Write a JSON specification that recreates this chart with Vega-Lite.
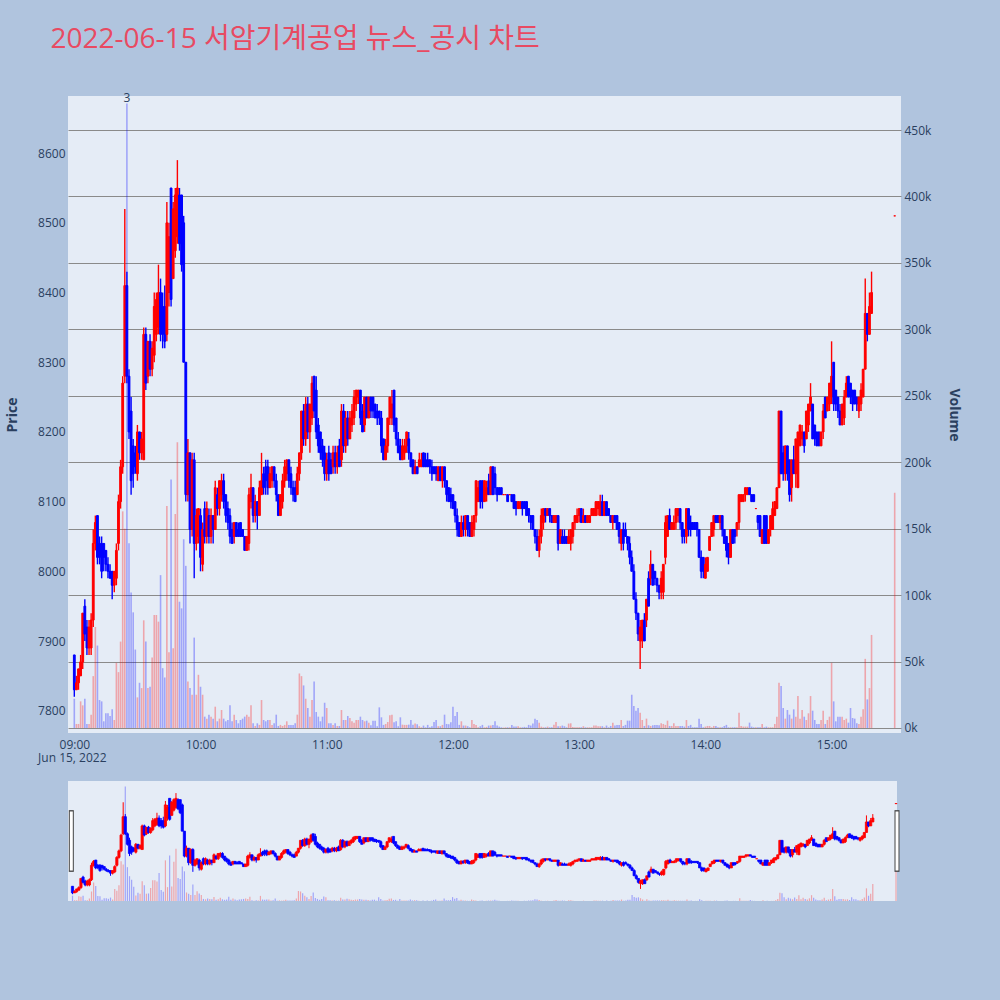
{
  "$schema": "https://vega.github.io/schema/vega-lite/v6.json",
  "background": "#B0C4DE",
  "padding": {"left": 5, "top": 26, "right": 44, "bottom": 106},
  "title": {
    "text": "2022-06-15 서암기계공업 뉴스_공시 차트",
    "anchor": "start",
    "frame": "bounds",
    "dx": 45,
    "offset": 38,
    "fontSize": 28,
    "fontWeight": "normal",
    "color": "#E84A62",
    "font": "Open Sans, Noto Sans CJK KR, sans-serif"
  },
  "datasets": {
    "candles": [
      {"t":"2022-06-15T09:00","o":7880,"h":7880,"l":7820,"c":7830,"v":22000},
      {"t":"2022-06-15T09:01","o":7830,"h":7850,"l":7830,"c":7840,"v":3000},
      {"t":"2022-06-15T09:02","o":7840,"h":7860,"l":7830,"c":7860,"v":3000},
      {"t":"2022-06-15T09:03","o":7850,"h":7880,"l":7850,"c":7870,"v":20000},
      {"t":"2022-06-15T09:04","o":7870,"h":7940,"l":7860,"c":7940,"v":17000},
      {"t":"2022-06-15T09:05","o":7950,"h":7960,"l":7900,"c":7910,"v":22000},
      {"t":"2022-06-15T09:06","o":7920,"h":7930,"l":7880,"c":7890,"v":3000},
      {"t":"2022-06-15T09:07","o":7890,"h":7930,"l":7880,"c":7920,"v":3000},
      {"t":"2022-06-15T09:08","o":7890,"h":7940,"l":7880,"c":7930,"v":10000},
      {"t":"2022-06-15T09:09","o":7930,"h":8060,"l":7920,"c":8040,"v":39000},
      {"t":"2022-06-15T09:10","o":8040,"h":8080,"l":8030,"c":8070,"v":76000},
      {"t":"2022-06-15T09:11","o":8080,"h":8080,"l":8010,"c":8020,"v":62000},
      {"t":"2022-06-15T09:12","o":8040,"h":8050,"l":8010,"c":8020,"v":21000},
      {"t":"2022-06-15T09:13","o":8040,"h":8050,"l":7990,"c":8000,"v":20000},
      {"t":"2022-06-15T09:14","o":8040,"h":8040,"l":8000,"c":8020,"v":5000},
      {"t":"2022-06-15T09:15","o":8030,"h":8030,"l":8000,"c":8010,"v":11000},
      {"t":"2022-06-15T09:16","o":8010,"h":8020,"l":7990,"c":8000,"v":11000},
      {"t":"2022-06-15T09:17","o":8000,"h":8010,"l":7990,"c":7990,"v":9000},
      {"t":"2022-06-15T09:18","o":8000,"h":8000,"l":7960,"c":7980,"v":14000},
      {"t":"2022-06-15T09:19","o":7980,"h":8000,"l":7970,"c":8000,"v":6000},
      {"t":"2022-06-15T09:20","o":7990,"h":8040,"l":7980,"c":8030,"v":49000},
      {"t":"2022-06-15T09:21","o":8040,"h":8110,"l":8030,"c":8100,"v":42000},
      {"t":"2022-06-15T09:22","o":8100,"h":8160,"l":8090,"c":8150,"v":65000},
      {"t":"2022-06-15T09:23","o":8150,"h":8280,"l":8140,"c":8270,"v":163000},
      {"t":"2022-06-15T09:24","o":8280,"h":8520,"l":8270,"c":8410,"v":150000},
      {"t":"2022-06-15T09:25","o":8410,"h":8430,"l":8270,"c":8280,"v":470000},
      {"t":"2022-06-15T09:26","o":8280,"h":8290,"l":8190,"c":8200,"v":139000},
      {"t":"2022-06-15T09:27","o":8230,"h":8250,"l":8110,"c":8130,"v":102000},
      {"t":"2022-06-15T09:28","o":8180,"h":8190,"l":8120,"c":8140,"v":87000},
      {"t":"2022-06-15T09:29","o":8170,"h":8180,"l":8140,"c":8150,"v":59000},
      {"t":"2022-06-15T09:30","o":8140,"h":8210,"l":8130,"c":8200,"v":23000},
      {"t":"2022-06-15T09:31","o":8200,"h":8200,"l":8160,"c":8170,"v":34000},
      {"t":"2022-06-15T09:32","o":8170,"h":8200,"l":8160,"c":8190,"v":30000},
      {"t":"2022-06-15T09:33","o":8160,"h":8350,"l":8160,"c":8340,"v":81000},
      {"t":"2022-06-15T09:34","o":8340,"h":8350,"l":8260,"c":8270,"v":65000},
      {"t":"2022-06-15T09:35","o":8280,"h":8330,"l":8270,"c":8330,"v":30000},
      {"t":"2022-06-15T09:36","o":8330,"h":8340,"l":8280,"c":8290,"v":31000},
      {"t":"2022-06-15T09:37","o":8290,"h":8330,"l":8280,"c":8320,"v":53000},
      {"t":"2022-06-15T09:38","o":8310,"h":8400,"l":8300,"c":8380,"v":85000},
      {"t":"2022-06-15T09:39","o":8340,"h":8400,"l":8330,"c":8390,"v":85000},
      {"t":"2022-06-15T09:40","o":8350,"h":8440,"l":8340,"c":8400,"v":80000},
      {"t":"2022-06-15T09:41","o":8400,"h":8420,"l":8330,"c":8340,"v":115000},
      {"t":"2022-06-15T09:42","o":8380,"h":8400,"l":8320,"c":8340,"v":45000},
      {"t":"2022-06-15T09:43","o":8380,"h":8410,"l":8320,"c":8330,"v":38000},
      {"t":"2022-06-15T09:44","o":8340,"h":8530,"l":8330,"c":8500,"v":167000},
      {"t":"2022-06-15T09:45","o":8400,"h":8500,"l":8380,"c":8480,"v":57000},
      {"t":"2022-06-15T09:46","o":8550,"h":8550,"l":8380,"c":8390,"v":187000},
      {"t":"2022-06-15T09:47","o":8420,"h":8530,"l":8420,"c":8520,"v":60000},
      {"t":"2022-06-15T09:48","o":8460,"h":8550,"l":8450,"c":8540,"v":161000},
      {"t":"2022-06-15T09:49","o":8480,"h":8590,"l":8470,"c":8550,"v":215000},
      {"t":"2022-06-15T09:50","o":8540,"h":8550,"l":8460,"c":8470,"v":95000},
      {"t":"2022-06-15T09:51","o":8540,"h":8540,"l":8430,"c":8440,"v":90000},
      {"t":"2022-06-15T09:52","o":8500,"h":8510,"l":8300,"c":8300,"v":142000},
      {"t":"2022-06-15T09:53","o":8300,"h":8300,"l":8100,"c":8110,"v":122000},
      {"t":"2022-06-15T09:54","o":8110,"h":8190,"l":8100,"c":8170,"v":35000},
      {"t":"2022-06-15T09:55","o":8170,"h":8170,"l":8040,"c":8060,"v":30000},
      {"t":"2022-06-15T09:56","o":8060,"h":8170,"l":8050,"c":8160,"v":25000},
      {"t":"2022-06-15T09:57","o":8160,"h":8170,"l":7990,"c":8040,"v":68000},
      {"t":"2022-06-15T09:58","o":8040,"h":8090,"l":8030,"c":8080,"v":25000},
      {"t":"2022-06-15T09:59","o":8050,"h":8090,"l":8040,"c":8090,"v":40000},
      {"t":"2022-06-15T10:00","o":8080,"h":8090,"l":8000,"c":8020,"v":31000},
      {"t":"2022-06-15T10:01","o":8010,"h":8070,"l":8000,"c":8060,"v":25000},
      {"t":"2022-06-15T10:02","o":8090,"h":8100,"l":8040,"c":8050,"v":8500},
      {"t":"2022-06-15T10:03","o":8050,"h":8100,"l":8040,"c":8090,"v":7000},
      {"t":"2022-06-15T10:04","o":8080,"h":8090,"l":8040,"c":8050,"v":10000},
      {"t":"2022-06-15T10:05","o":8050,"h":8090,"l":8040,"c":8080,"v":8500},
      {"t":"2022-06-15T10:06","o":8080,"h":8080,"l":8040,"c":8060,"v":7000},
      {"t":"2022-06-15T10:07","o":8060,"h":8130,"l":8060,"c":8120,"v":16000},
      {"t":"2022-06-15T10:08","o":8110,"h":8120,"l":8080,"c":8090,"v":5000},
      {"t":"2022-06-15T10:09","o":8090,"h":8130,"l":8080,"c":8130,"v":7000},
      {"t":"2022-06-15T10:10","o":8110,"h":8140,"l":8100,"c":8130,"v":13500},
      {"t":"2022-06-15T10:11","o":8130,"h":8140,"l":8090,"c":8100,"v":7000},
      {"t":"2022-06-15T10:12","o":8110,"h":8110,"l":8070,"c":8080,"v":5000},
      {"t":"2022-06-15T10:13","o":8090,"h":8100,"l":8060,"c":8070,"v":6000},
      {"t":"2022-06-15T10:14","o":8080,"h":8090,"l":8040,"c":8050,"v":17000},
      {"t":"2022-06-15T10:15","o":8060,"h":8070,"l":8040,"c":8040,"v":5000},
      {"t":"2022-06-15T10:16","o":8050,"h":8070,"l":8040,"c":8070,"v":10000},
      {"t":"2022-06-15T10:17","o":8070,"h":8070,"l":8050,"c":8050,"v":6000},
      {"t":"2022-06-15T10:18","o":8060,"h":8070,"l":8050,"c":8050,"v":3500},
      {"t":"2022-06-15T10:19","o":8070,"h":8070,"l":8050,"c":8050,"v":6000},
      {"t":"2022-06-15T10:20","o":8060,"h":8060,"l":8050,"c":8050,"v":7000},
      {"t":"2022-06-15T10:21","o":8050,"h":8050,"l":8030,"c":8030,"v":8500},
      {"t":"2022-06-15T10:22","o":8030,"h":8050,"l":8030,"c":8050,"v":10000},
      {"t":"2022-06-15T10:23","o":8040,"h":8120,"l":8030,"c":8110,"v":8500},
      {"t":"2022-06-15T10:24","o":8100,"h":8140,"l":8090,"c":8120,"v":17000},
      {"t":"2022-06-15T10:25","o":8120,"h":8120,"l":8070,"c":8080,"v":3500},
      {"t":"2022-06-15T10:26","o":8080,"h":8110,"l":8070,"c":8100,"v":1500},
      {"t":"2022-06-15T10:27","o":8100,"h":8100,"l":8060,"c":8080,"v":3500},
      {"t":"2022-06-15T10:28","o":8080,"h":8130,"l":8080,"c":8120,"v":2300},
      {"t":"2022-06-15T10:29","o":8110,"h":8170,"l":8110,"c":8130,"v":21000},
      {"t":"2022-06-15T10:30","o":8140,"h":8150,"l":8110,"c":8120,"v":6000},
      {"t":"2022-06-15T10:31","o":8150,"h":8160,"l":8110,"c":8130,"v":5000},
      {"t":"2022-06-15T10:32","o":8150,"h":8160,"l":8110,"c":8120,"v":6000},
      {"t":"2022-06-15T10:33","o":8120,"h":8150,"l":8120,"c":8140,"v":6000},
      {"t":"2022-06-15T10:34","o":8130,"h":8150,"l":8120,"c":8150,"v":2300},
      {"t":"2022-06-15T10:35","o":8150,"h":8150,"l":8120,"c":8130,"v":3500},
      {"t":"2022-06-15T10:36","o":8130,"h":8140,"l":8100,"c":8110,"v":10000},
      {"t":"2022-06-15T10:37","o":8110,"h":8110,"l":8080,"c":8080,"v":1500},
      {"t":"2022-06-15T10:38","o":8080,"h":8110,"l":8080,"c":8110,"v":2300},
      {"t":"2022-06-15T10:39","o":8100,"h":8140,"l":8090,"c":8130,"v":1500},
      {"t":"2022-06-15T10:40","o":8130,"h":8160,"l":8120,"c":8150,"v":2300},
      {"t":"2022-06-15T10:41","o":8140,"h":8160,"l":8130,"c":8160,"v":5000},
      {"t":"2022-06-15T10:42","o":8160,"h":8160,"l":8120,"c":8130,"v":2300},
      {"t":"2022-06-15T10:43","o":8140,"h":8150,"l":8110,"c":8120,"v":2300},
      {"t":"2022-06-15T10:44","o":8120,"h":8130,"l":8100,"c":8110,"v":2300},
      {"t":"2022-06-15T10:45","o":8120,"h":8130,"l":8100,"c":8100,"v":3500},
      {"t":"2022-06-15T10:46","o":8110,"h":8150,"l":8110,"c":8140,"v":10000},
      {"t":"2022-06-15T10:47","o":8140,"h":8170,"l":8130,"c":8170,"v":41000},
      {"t":"2022-06-15T10:48","o":8170,"h":8230,"l":8160,"c":8230,"v":39000},
      {"t":"2022-06-15T10:49","o":8230,"h":8240,"l":8180,"c":8190,"v":32000},
      {"t":"2022-06-15T10:50","o":8190,"h":8250,"l":8180,"c":8240,"v":22000},
      {"t":"2022-06-15T10:51","o":8240,"h":8250,"l":8190,"c":8200,"v":15000},
      {"t":"2022-06-15T10:52","o":8200,"h":8240,"l":8170,"c":8240,"v":8500},
      {"t":"2022-06-15T10:53","o":8220,"h":8280,"l":8210,"c":8270,"v":21000},
      {"t":"2022-06-15T10:54","o":8280,"h":8280,"l":8220,"c":8230,"v":35000},
      {"t":"2022-06-15T10:55","o":8260,"h":8280,"l":8190,"c":8200,"v":12000},
      {"t":"2022-06-15T10:56","o":8210,"h":8220,"l":8170,"c":8180,"v":8500},
      {"t":"2022-06-15T10:57","o":8200,"h":8200,"l":8160,"c":8170,"v":5000},
      {"t":"2022-06-15T10:58","o":8180,"h":8190,"l":8150,"c":8160,"v":8500},
      {"t":"2022-06-15T10:59","o":8170,"h":8180,"l":8130,"c":8140,"v":19000},
      {"t":"2022-06-15T11:00","o":8140,"h":8170,"l":8130,"c":8160,"v":15000},
      {"t":"2022-06-15T11:01","o":8170,"h":8180,"l":8130,"c":8140,"v":3500},
      {"t":"2022-06-15T11:02","o":8160,"h":8170,"l":8140,"c":8140,"v":3500},
      {"t":"2022-06-15T11:03","o":8150,"h":8180,"l":8140,"c":8170,"v":2300},
      {"t":"2022-06-15T11:04","o":8170,"h":8180,"l":8140,"c":8150,"v":3500},
      {"t":"2022-06-15T11:05","o":8150,"h":8180,"l":8140,"c":8170,"v":1500},
      {"t":"2022-06-15T11:06","o":8180,"h":8190,"l":8150,"c":8150,"v":1500},
      {"t":"2022-06-15T11:07","o":8160,"h":8240,"l":8150,"c":8230,"v":13500},
      {"t":"2022-06-15T11:08","o":8230,"h":8240,"l":8170,"c":8180,"v":6000},
      {"t":"2022-06-15T11:09","o":8180,"h":8230,"l":8170,"c":8220,"v":6000},
      {"t":"2022-06-15T11:10","o":8220,"h":8230,"l":8180,"c":8190,"v":9000},
      {"t":"2022-06-15T11:11","o":8190,"h":8230,"l":8190,"c":8220,"v":7500},
      {"t":"2022-06-15T11:12","o":8210,"h":8240,"l":8200,"c":8230,"v":5000},
      {"t":"2022-06-15T11:13","o":8220,"h":8260,"l":8210,"c":8250,"v":4000},
      {"t":"2022-06-15T11:14","o":8240,"h":8260,"l":8230,"c":8260,"v":6000},
      {"t":"2022-06-15T11:15","o":8250,"h":8260,"l":8240,"c":8260,"v":6000},
      {"t":"2022-06-15T11:16","o":8260,"h":8260,"l":8210,"c":8220,"v":8500},
      {"t":"2022-06-15T11:17","o":8230,"h":8240,"l":8200,"c":8200,"v":6000},
      {"t":"2022-06-15T11:18","o":8210,"h":8250,"l":8200,"c":8250,"v":5000},
      {"t":"2022-06-15T11:19","o":8250,"h":8250,"l":8220,"c":8220,"v":5500},
      {"t":"2022-06-15T11:20","o":8220,"h":8250,"l":8220,"c":8250,"v":4000},
      {"t":"2022-06-15T11:21","o":8250,"h":8250,"l":8220,"c":8230,"v":2000},
      {"t":"2022-06-15T11:22","o":8250,"h":8250,"l":8220,"c":8230,"v":5500},
      {"t":"2022-06-15T11:23","o":8240,"h":8240,"l":8220,"c":8220,"v":5500},
      {"t":"2022-06-15T11:24","o":8230,"h":8240,"l":8210,"c":8220,"v":1300},
      {"t":"2022-06-15T11:25","o":8230,"h":8230,"l":8210,"c":8220,"v":15500},
      {"t":"2022-06-15T11:26","o":8220,"h":8230,"l":8170,"c":8180,"v":8000},
      {"t":"2022-06-15T11:27","o":8190,"h":8190,"l":8160,"c":8160,"v":2300},
      {"t":"2022-06-15T11:28","o":8160,"h":8190,"l":8160,"c":8180,"v":3000},
      {"t":"2022-06-15T11:29","o":8180,"h":8220,"l":8170,"c":8220,"v":4500},
      {"t":"2022-06-15T11:30","o":8220,"h":8250,"l":8210,"c":8250,"v":9500},
      {"t":"2022-06-15T11:31","o":8220,"h":8260,"l":8210,"c":8240,"v":10000},
      {"t":"2022-06-15T11:32","o":8260,"h":8260,"l":8200,"c":8210,"v":4300},
      {"t":"2022-06-15T11:33","o":8220,"h":8220,"l":8180,"c":8190,"v":5000},
      {"t":"2022-06-15T11:34","o":8190,"h":8200,"l":8170,"c":8170,"v":1300},
      {"t":"2022-06-15T11:35","o":8180,"h":8190,"l":8160,"c":8160,"v":8000},
      {"t":"2022-06-15T11:36","o":8160,"h":8190,"l":8160,"c":8180,"v":2500},
      {"t":"2022-06-15T11:37","o":8170,"h":8190,"l":8160,"c":8180,"v":2300},
      {"t":"2022-06-15T11:38","o":8180,"h":8200,"l":8170,"c":8200,"v":2300},
      {"t":"2022-06-15T11:39","o":8190,"h":8200,"l":8160,"c":8170,"v":2500},
      {"t":"2022-06-15T11:40","o":8170,"h":8170,"l":8150,"c":8150,"v":6000},
      {"t":"2022-06-15T11:41","o":8160,"h":8160,"l":8140,"c":8140,"v":2500},
      {"t":"2022-06-15T11:42","o":8140,"h":8160,"l":8140,"c":8150,"v":3300},
      {"t":"2022-06-15T11:43","o":8150,"h":8150,"l":8140,"c":8140,"v":2800},
      {"t":"2022-06-15T11:44","o":8150,"h":8170,"l":8150,"c":8160,"v":1300},
      {"t":"2022-06-15T11:45","o":8150,"h":8170,"l":8150,"c":8160,"v":500},
      {"t":"2022-06-15T11:46","o":8170,"h":8170,"l":8150,"c":8150,"v":1800},
      {"t":"2022-06-15T11:47","o":8160,"h":8170,"l":8150,"c":8150,"v":500},
      {"t":"2022-06-15T11:48","o":8160,"h":8170,"l":8150,"c":8150,"v":2300},
      {"t":"2022-06-15T11:49","o":8160,"h":8160,"l":8140,"c":8150,"v":500},
      {"t":"2022-06-15T11:50","o":8150,"h":8160,"l":8130,"c":8140,"v":1300},
      {"t":"2022-06-15T11:51","o":8150,"h":8150,"l":8140,"c":8140,"v":4500},
      {"t":"2022-06-15T11:52","o":8150,"h":8150,"l":8130,"c":8140,"v":6000},
      {"t":"2022-06-15T11:53","o":8130,"h":8150,"l":8130,"c":8150,"v":1300},
      {"t":"2022-06-15T11:54","o":8150,"h":8150,"l":8130,"c":8130,"v":1300},
      {"t":"2022-06-15T11:55","o":8130,"h":8150,"l":8120,"c":8150,"v":2300},
      {"t":"2022-06-15T11:56","o":8150,"h":8150,"l":8120,"c":8130,"v":10000},
      {"t":"2022-06-15T11:57","o":8130,"h":8130,"l":8100,"c":8110,"v":3000},
      {"t":"2022-06-15T11:58","o":8120,"h":8120,"l":8100,"c":8100,"v":2800},
      {"t":"2022-06-15T11:59","o":8110,"h":8120,"l":8090,"c":8100,"v":4300},
      {"t":"2022-06-15T12:00","o":8110,"h":8110,"l":8090,"c":8090,"v":16000},
      {"t":"2022-06-15T12:01","o":8100,"h":8100,"l":8070,"c":8080,"v":9000},
      {"t":"2022-06-15T12:02","o":8080,"h":8090,"l":8050,"c":8060,"v":12000},
      {"t":"2022-06-15T12:03","o":8070,"h":8070,"l":8050,"c":8050,"v":2300},
      {"t":"2022-06-15T12:04","o":8050,"h":8080,"l":8050,"c":8070,"v":5000},
      {"t":"2022-06-15T12:05","o":8070,"h":8080,"l":8050,"c":8060,"v":1800},
      {"t":"2022-06-15T12:06","o":8060,"h":8080,"l":8050,"c":8080,"v":1800},
      {"t":"2022-06-15T12:07","o":8080,"h":8080,"l":8050,"c":8060,"v":1300},
      {"t":"2022-06-15T12:08","o":8070,"h":8070,"l":8050,"c":8050,"v":500},
      {"t":"2022-06-15T12:09","o":8050,"h":8080,"l":8050,"c":8070,"v":6000},
      {"t":"2022-06-15T12:10","o":8060,"h":8080,"l":8050,"c":8080,"v":3000},
      {"t":"2022-06-15T12:11","o":8080,"h":8130,"l":8070,"c":8130,"v":2300},
      {"t":"2022-06-15T12:12","o":8100,"h":8130,"l":8100,"c":8120,"v":500},
      {"t":"2022-06-15T12:13","o":8130,"h":8130,"l":8090,"c":8100,"v":1300},
      {"t":"2022-06-15T12:14","o":8130,"h":8130,"l":8090,"c":8100,"v":2300},
      {"t":"2022-06-15T12:15","o":8100,"h":8130,"l":8100,"c":8130,"v":500},
      {"t":"2022-06-15T12:16","o":8110,"h":8130,"l":8100,"c":8120,"v":800},
      {"t":"2022-06-15T12:17","o":8130,"h":8140,"l":8110,"c":8110,"v":1800},
      {"t":"2022-06-15T12:18","o":8110,"h":8150,"l":8110,"c":8150,"v":1800},
      {"t":"2022-06-15T12:19","o":8150,"h":8150,"l":8110,"c":8110,"v":2300},
      {"t":"2022-06-15T12:20","o":8140,"h":8150,"l":8110,"c":8120,"v":5000},
      {"t":"2022-06-15T12:21","o":8120,"h":8120,"l":8100,"c":8110,"v":1800},
      {"t":"2022-06-15T12:22","o":8120,"h":8120,"l":8110,"c":8110,"v":1000},
      {"t":"2022-06-15T12:23","o":8120,"h":8120,"l":8110,"c":8110,"v":500},
      {"t":"2022-06-15T12:24","o":8110,"h":8110,"l":8110,"c":8110,"v":300},
      {"t":"2022-06-15T12:25","o":8110,"h":8110,"l":8110,"c":8110,"v":500},
      {"t":"2022-06-15T12:26","o":8110,"h":8110,"l":8100,"c":8100,"v":500},
      {"t":"2022-06-15T12:27","o":8110,"h":8110,"l":8110,"c":8110,"v":500},
      {"t":"2022-06-15T12:28","o":8110,"h":8110,"l":8100,"c":8100,"v":2300},
      {"t":"2022-06-15T12:29","o":8110,"h":8110,"l":8090,"c":8090,"v":1000},
      {"t":"2022-06-15T12:30","o":8100,"h":8100,"l":8080,"c":8090,"v":1000},
      {"t":"2022-06-15T12:31","o":8090,"h":8100,"l":8090,"c":8100,"v":1300},
      {"t":"2022-06-15T12:32","o":8090,"h":8100,"l":8090,"c":8100,"v":500},
      {"t":"2022-06-15T12:33","o":8100,"h":8100,"l":8080,"c":8090,"v":500},
      {"t":"2022-06-15T12:34","o":8100,"h":8100,"l":8090,"c":8090,"v":800},
      {"t":"2022-06-15T12:35","o":8100,"h":8100,"l":8080,"c":8080,"v":500},
      {"t":"2022-06-15T12:36","o":8090,"h":8090,"l":8070,"c":8080,"v":2300},
      {"t":"2022-06-15T12:37","o":8080,"h":8080,"l":8060,"c":8070,"v":1800},
      {"t":"2022-06-15T12:38","o":8080,"h":8080,"l":8060,"c":8060,"v":3300},
      {"t":"2022-06-15T12:39","o":8060,"h":8060,"l":8040,"c":8050,"v":7000},
      {"t":"2022-06-15T12:40","o":8050,"h":8060,"l":8030,"c":8030,"v":6000},
      {"t":"2022-06-15T12:41","o":8030,"h":8060,"l":8020,"c":8050,"v":4000},
      {"t":"2022-06-15T12:42","o":8050,"h":8090,"l":8040,"c":8080,"v":1000},
      {"t":"2022-06-15T12:43","o":8070,"h":8090,"l":8060,"c":8090,"v":500},
      {"t":"2022-06-15T12:44","o":8090,"h":8090,"l":8070,"c":8080,"v":500},
      {"t":"2022-06-15T12:45","o":8080,"h":8090,"l":8080,"c":8090,"v":1000},
      {"t":"2022-06-15T12:46","o":8090,"h":8090,"l":8070,"c":8080,"v":500},
      {"t":"2022-06-15T12:47","o":8080,"h":8080,"l":8070,"c":8070,"v":500},
      {"t":"2022-06-15T12:48","o":8070,"h":8080,"l":8070,"c":8080,"v":2500},
      {"t":"2022-06-15T12:49","o":8070,"h":8080,"l":8070,"c":8080,"v":4500},
      {"t":"2022-06-15T12:50","o":8080,"h":8080,"l":8030,"c":8040,"v":1300},
      {"t":"2022-06-15T12:51","o":8040,"h":8060,"l":8040,"c":8060,"v":1300},
      {"t":"2022-06-15T12:52","o":8050,"h":8060,"l":8040,"c":8040,"v":1800},
      {"t":"2022-06-15T12:53","o":8050,"h":8060,"l":8040,"c":8040,"v":1300},
      {"t":"2022-06-15T12:54","o":8050,"h":8050,"l":8040,"c":8040,"v":500},
      {"t":"2022-06-15T12:55","o":8040,"h":8060,"l":8040,"c":8050,"v":3300},
      {"t":"2022-06-15T12:56","o":8040,"h":8060,"l":8030,"c":8060,"v":3500},
      {"t":"2022-06-15T12:57","o":8050,"h":8070,"l":8040,"c":8070,"v":800},
      {"t":"2022-06-15T12:58","o":8070,"h":8080,"l":8060,"c":8080,"v":500},
      {"t":"2022-06-15T12:59","o":8070,"h":8090,"l":8070,"c":8080,"v":500},
      {"t":"2022-06-15T13:00","o":8080,"h":8090,"l":8070,"c":8090,"v":500},
      {"t":"2022-06-15T13:01","o":8090,"h":8090,"l":8070,"c":8070,"v":500},
      {"t":"2022-06-15T13:02","o":8070,"h":8090,"l":8070,"c":8080,"v":1300},
      {"t":"2022-06-15T13:03","o":8080,"h":8080,"l":8070,"c":8070,"v":500},
      {"t":"2022-06-15T13:04","o":8070,"h":8080,"l":8070,"c":8080,"v":500},
      {"t":"2022-06-15T13:05","o":8070,"h":8080,"l":8070,"c":8080,"v":500},
      {"t":"2022-06-15T13:06","o":8080,"h":8090,"l":8080,"c":8090,"v":500},
      {"t":"2022-06-15T13:07","o":8080,"h":8090,"l":8080,"c":8090,"v":1800},
      {"t":"2022-06-15T13:08","o":8080,"h":8100,"l":8080,"c":8100,"v":1800},
      {"t":"2022-06-15T13:09","o":8090,"h":8100,"l":8080,"c":8100,"v":1300},
      {"t":"2022-06-15T13:10","o":8080,"h":8110,"l":8080,"c":8100,"v":1300},
      {"t":"2022-06-15T13:11","o":8100,"h":8110,"l":8080,"c":8080,"v":1300},
      {"t":"2022-06-15T13:12","o":8080,"h":8100,"l":8080,"c":8100,"v":500},
      {"t":"2022-06-15T13:13","o":8100,"h":8100,"l":8080,"c":8080,"v":1800},
      {"t":"2022-06-15T13:14","o":8090,"h":8090,"l":8080,"c":8080,"v":500},
      {"t":"2022-06-15T13:15","o":8080,"h":8080,"l":8070,"c":8070,"v":1500},
      {"t":"2022-06-15T13:16","o":8070,"h":8080,"l":8060,"c":8080,"v":4000},
      {"t":"2022-06-15T13:17","o":8080,"h":8080,"l":8070,"c":8070,"v":1800},
      {"t":"2022-06-15T13:18","o":8080,"h":8080,"l":8060,"c":8060,"v":2300},
      {"t":"2022-06-15T13:19","o":8070,"h":8070,"l":8040,"c":8050,"v":2300},
      {"t":"2022-06-15T13:20","o":8040,"h":8060,"l":8030,"c":8060,"v":6000},
      {"t":"2022-06-15T13:21","o":8060,"h":8070,"l":8030,"c":8040,"v":1500},
      {"t":"2022-06-15T13:22","o":8060,"h":8070,"l":8050,"c":8050,"v":2300},
      {"t":"2022-06-15T13:23","o":8050,"h":8050,"l":8030,"c":8040,"v":5500},
      {"t":"2022-06-15T13:24","o":8040,"h":8050,"l":8010,"c":8020,"v":5500},
      {"t":"2022-06-15T13:25","o":8020,"h":8030,"l":8000,"c":8000,"v":25000},
      {"t":"2022-06-15T13:26","o":8000,"h":8010,"l":7960,"c":7960,"v":16500},
      {"t":"2022-06-15T13:27","o":7960,"h":7970,"l":7930,"c":7940,"v":13000},
      {"t":"2022-06-15T13:28","o":7940,"h":7940,"l":7900,"c":7910,"v":15000},
      {"t":"2022-06-15T13:29","o":7900,"h":7930,"l":7860,"c":7920,"v":11500},
      {"t":"2022-06-15T13:30","o":7900,"h":7930,"l":7890,"c":7930,"v":6000},
      {"t":"2022-06-15T13:31","o":7930,"h":7940,"l":7900,"c":7900,"v":1500},
      {"t":"2022-06-15T13:32","o":7930,"h":7960,"l":7920,"c":7960,"v":7000},
      {"t":"2022-06-15T13:33","o":7990,"h":8000,"l":7950,"c":7950,"v":2000},
      {"t":"2022-06-15T13:34","o":7990,"h":8030,"l":7980,"c":8010,"v":1500},
      {"t":"2022-06-15T13:35","o":8010,"h":8010,"l":7980,"c":7980,"v":2000},
      {"t":"2022-06-15T13:36","o":8000,"h":8000,"l":7980,"c":7990,"v":2300},
      {"t":"2022-06-15T13:37","o":7990,"h":7990,"l":7970,"c":7980,"v":2300},
      {"t":"2022-06-15T13:38","o":7980,"h":7980,"l":7960,"c":7970,"v":2000},
      {"t":"2022-06-15T13:39","o":7970,"h":8000,"l":7960,"c":7990,"v":3500},
      {"t":"2022-06-15T13:40","o":7970,"h":8010,"l":7960,"c":8010,"v":3000},
      {"t":"2022-06-15T13:41","o":8020,"h":8080,"l":8010,"c":8070,"v":2300},
      {"t":"2022-06-15T13:42","o":8050,"h":8080,"l":8050,"c":8080,"v":5500},
      {"t":"2022-06-15T13:43","o":8080,"h":8090,"l":8060,"c":8060,"v":1500},
      {"t":"2022-06-15T13:44","o":8060,"h":8070,"l":8060,"c":8070,"v":1500},
      {"t":"2022-06-15T13:45","o":8060,"h":8080,"l":8060,"c":8070,"v":3500},
      {"t":"2022-06-15T13:46","o":8070,"h":8090,"l":8060,"c":8090,"v":1500},
      {"t":"2022-06-15T13:47","o":8080,"h":8090,"l":8070,"c":8090,"v":1500},
      {"t":"2022-06-15T13:48","o":8090,"h":8090,"l":8060,"c":8070,"v":1500},
      {"t":"2022-06-15T13:49","o":8070,"h":8070,"l":8040,"c":8050,"v":1500},
      {"t":"2022-06-15T13:50","o":8060,"h":8060,"l":8040,"c":8050,"v":1000},
      {"t":"2022-06-15T13:51","o":8050,"h":8090,"l":8040,"c":8090,"v":6000},
      {"t":"2022-06-15T13:52","o":8090,"h":8090,"l":8050,"c":8060,"v":1500},
      {"t":"2022-06-15T13:53","o":8070,"h":8080,"l":8050,"c":8060,"v":2300},
      {"t":"2022-06-15T13:54","o":8070,"h":8070,"l":8060,"c":8060,"v":500},
      {"t":"2022-06-15T13:55","o":8070,"h":8070,"l":8060,"c":8060,"v":500},
      {"t":"2022-06-15T13:56","o":8070,"h":8070,"l":8050,"c":8060,"v":500},
      {"t":"2022-06-15T13:57","o":8060,"h":8060,"l":8020,"c":8020,"v":7000},
      {"t":"2022-06-15T13:58","o":8020,"h":8030,"l":7990,"c":8000,"v":3000},
      {"t":"2022-06-15T13:59","o":8020,"h":8020,"l":7990,"c":8000,"v":500},
      {"t":"2022-06-15T14:00","o":7990,"h":8020,"l":7990,"c":8010,"v":1000},
      {"t":"2022-06-15T14:01","o":8000,"h":8020,"l":8000,"c":8020,"v":1500},
      {"t":"2022-06-15T14:02","o":8030,"h":8050,"l":8030,"c":8050,"v":1500},
      {"t":"2022-06-15T14:03","o":8050,"h":8070,"l":8050,"c":8070,"v":500},
      {"t":"2022-06-15T14:04","o":8060,"h":8080,"l":8050,"c":8080,"v":1500},
      {"t":"2022-06-15T14:05","o":8080,"h":8080,"l":8070,"c":8070,"v":1500},
      {"t":"2022-06-15T14:06","o":8080,"h":8080,"l":8070,"c":8070,"v":500},
      {"t":"2022-06-15T14:07","o":8070,"h":8080,"l":8060,"c":8080,"v":500},
      {"t":"2022-06-15T14:08","o":8080,"h":8080,"l":8050,"c":8060,"v":500},
      {"t":"2022-06-15T14:09","o":8060,"h":8060,"l":8040,"c":8040,"v":1500},
      {"t":"2022-06-15T14:10","o":8050,"h":8050,"l":8020,"c":8030,"v":2300},
      {"t":"2022-06-15T14:11","o":8040,"h":8040,"l":8010,"c":8020,"v":500},
      {"t":"2022-06-15T14:12","o":8020,"h":8060,"l":8020,"c":8060,"v":500},
      {"t":"2022-06-15T14:13","o":8060,"h":8060,"l":8040,"c":8040,"v":500},
      {"t":"2022-06-15T14:14","o":8060,"h":8060,"l":8040,"c":8050,"v":500},
      {"t":"2022-06-15T14:15","o":8060,"h":8070,"l":8050,"c":8070,"v":500},
      {"t":"2022-06-15T14:16","o":8070,"h":8110,"l":8060,"c":8110,"v":11500},
      {"t":"2022-06-15T14:17","o":8100,"h":8110,"l":8100,"c":8110,"v":1500},
      {"t":"2022-06-15T14:18","o":8100,"h":8110,"l":8100,"c":8110,"v":1000},
      {"t":"2022-06-15T14:19","o":8110,"h":8120,"l":8100,"c":8120,"v":1000},
      {"t":"2022-06-15T14:20","o":8110,"h":8120,"l":8110,"c":8120,"v":1000},
      {"t":"2022-06-15T14:21","o":8120,"h":8120,"l":8110,"c":8110,"v":4000},
      {"t":"2022-06-15T14:22","o":8110,"h":8110,"l":8100,"c":8100,"v":1000},
      {"t":"2022-06-15T14:23","o":8110,"h":8110,"l":8100,"c":8100,"v":500},
      {"t":"2022-06-15T14:24","o":8090,"h":8090,"l":8090,"c":8090,"v":500},
      {"t":"2022-06-15T14:25","o":8080,"h":8080,"l":8060,"c":8070,"v":500},
      {"t":"2022-06-15T14:26","o":8080,"h":8080,"l":8050,"c":8050,"v":500},
      {"t":"2022-06-15T14:27","o":8040,"h":8060,"l":8040,"c":8060,"v":3000},
      {"t":"2022-06-15T14:28","o":8080,"h":8080,"l":8040,"c":8040,"v":500},
      {"t":"2022-06-15T14:29","o":8080,"h":8080,"l":8040,"c":8040,"v":1000},
      {"t":"2022-06-15T14:30","o":8040,"h":8060,"l":8040,"c":8060,"v":500},
      {"t":"2022-06-15T14:31","o":8060,"h":8080,"l":8050,"c":8080,"v":500},
      {"t":"2022-06-15T14:32","o":8060,"h":8100,"l":8060,"c":8090,"v":500},
      {"t":"2022-06-15T14:33","o":8080,"h":8100,"l":8080,"c":8100,"v":3000},
      {"t":"2022-06-15T14:34","o":8090,"h":8120,"l":8090,"c":8120,"v":8500},
      {"t":"2022-06-15T14:35","o":8120,"h":8230,"l":8120,"c":8230,"v":34000},
      {"t":"2022-06-15T14:36","o":8230,"h":8230,"l":8140,"c":8140,"v":31600},
      {"t":"2022-06-15T14:37","o":8170,"h":8180,"l":8130,"c":8140,"v":15000},
      {"t":"2022-06-15T14:38","o":8140,"h":8180,"l":8130,"c":8180,"v":7000},
      {"t":"2022-06-15T14:39","o":8180,"h":8180,"l":8130,"c":8140,"v":13500},
      {"t":"2022-06-15T14:40","o":8160,"h":8160,"l":8100,"c":8110,"v":10000},
      {"t":"2022-06-15T14:41","o":8120,"h":8160,"l":8100,"c":8160,"v":7000},
      {"t":"2022-06-15T14:42","o":8160,"h":8180,"l":8140,"c":8140,"v":14000},
      {"t":"2022-06-15T14:43","o":8140,"h":8190,"l":8120,"c":8190,"v":8500},
      {"t":"2022-06-15T14:44","o":8120,"h":8200,"l":8120,"c":8200,"v":24000},
      {"t":"2022-06-15T14:45","o":8180,"h":8210,"l":8180,"c":8210,"v":7000},
      {"t":"2022-06-15T14:46","o":8190,"h":8210,"l":8180,"c":8200,"v":13500},
      {"t":"2022-06-15T14:47","o":8200,"h":8200,"l":8170,"c":8180,"v":8500},
      {"t":"2022-06-15T14:48","o":8190,"h":8230,"l":8190,"c":8230,"v":6000},
      {"t":"2022-06-15T14:49","o":8210,"h":8240,"l":8200,"c":8240,"v":11000},
      {"t":"2022-06-15T14:50","o":8230,"h":8270,"l":8230,"c":8250,"v":24000},
      {"t":"2022-06-15T14:51","o":8240,"h":8240,"l":8190,"c":8190,"v":13000},
      {"t":"2022-06-15T14:52","o":8210,"h":8210,"l":8180,"c":8190,"v":6000},
      {"t":"2022-06-15T14:53","o":8200,"h":8200,"l":8180,"c":8180,"v":3000},
      {"t":"2022-06-15T14:54","o":8200,"h":8200,"l":8180,"c":8180,"v":3000},
      {"t":"2022-06-15T14:55","o":8180,"h":8200,"l":8180,"c":8200,"v":6000},
      {"t":"2022-06-15T14:56","o":8200,"h":8240,"l":8190,"c":8230,"v":13000},
      {"t":"2022-06-15T14:57","o":8250,"h":8250,"l":8220,"c":8220,"v":3000},
      {"t":"2022-06-15T14:58","o":8230,"h":8250,"l":8230,"c":8250,"v":6000},
      {"t":"2022-06-15T14:59","o":8240,"h":8270,"l":8230,"c":8270,"v":8500},
      {"t":"2022-06-15T15:00","o":8250,"h":8330,"l":8240,"c":8280,"v":49000},
      {"t":"2022-06-15T15:01","o":8300,"h":8300,"l":8230,"c":8240,"v":20000},
      {"t":"2022-06-15T15:02","o":8260,"h":8260,"l":8230,"c":8240,"v":5000},
      {"t":"2022-06-15T15:03","o":8250,"h":8250,"l":8220,"c":8230,"v":8500},
      {"t":"2022-06-15T15:04","o":8230,"h":8240,"l":8210,"c":8210,"v":8500},
      {"t":"2022-06-15T15:05","o":8210,"h":8240,"l":8210,"c":8240,"v":8500},
      {"t":"2022-06-15T15:06","o":8220,"h":8260,"l":8210,"c":8250,"v":6000},
      {"t":"2022-06-15T15:07","o":8250,"h":8280,"l":8250,"c":8270,"v":7000},
      {"t":"2022-06-15T15:08","o":8280,"h":8280,"l":8250,"c":8250,"v":4000},
      {"t":"2022-06-15T15:09","o":8270,"h":8270,"l":8240,"c":8250,"v":15000},
      {"t":"2022-06-15T15:10","o":8260,"h":8260,"l":8230,"c":8240,"v":7500},
      {"t":"2022-06-15T15:11","o":8260,"h":8260,"l":8240,"c":8240,"v":7000},
      {"t":"2022-06-15T15:12","o":8250,"h":8250,"l":8230,"c":8240,"v":3500},
      {"t":"2022-06-15T15:13","o":8230,"h":8250,"l":8220,"c":8250,"v":3000},
      {"t":"2022-06-15T15:14","o":8240,"h":8270,"l":8230,"c":8260,"v":8500},
      {"t":"2022-06-15T15:15","o":8250,"h":8290,"l":8250,"c":8290,"v":14000},
      {"t":"2022-06-15T15:16","o":8290,"h":8420,"l":8290,"c":8370,"v":52000},
      {"t":"2022-06-15T15:17","o":8370,"h":8370,"l":8330,"c":8340,"v":21500},
      {"t":"2022-06-15T15:18","o":8340,"h":8400,"l":8340,"c":8380,"v":30000},
      {"t":"2022-06-15T15:19","o":8370,"h":8430,"l":8370,"c":8400,"v":70000},
      {"t":"2022-06-15T15:30","o":8510,"h":8510,"l":8510,"c":8510,"v":177000}
    ],
    "news": [{"t": "2022-06-15T09:25", "v": 470000, "n": "3"}],
    "dateline": [{"t": "2022-06-15T09:00", "p": 7768, "label": "Jun 15, 2022"}],
    "handles": [
      {"t": "2022-06-15T08:59:26", "lo": 7990, "hi": 8460, "lo2": 8000, "hi2": 8450},
      {"t": "2022-06-15T15:30:28", "lo": 7990, "hi": 8460, "lo2": 8000, "hi2": 8450}
    ]
  },
  "spacing": 17,
  "resolve": {"scale": {"x": "independent"}},
  "vconcat": [
    {
      "width": 833,
      "height": 637,
      "resolve": {"scale": {"y": "independent"}, "axis": {"y": "independent"}},
      "layer": [
        {
          "data": {"name": "candles"},
          "mark": {"type": "bar", "width": 1.6, "opacity": 0.3},
          "encoding": {
            "x": {
              "field": "t",
              "type": "temporal",
              "scale": {"domain": ["2022-06-15T08:57:00", "2022-06-15T15:33:00"], "padding": 0, "nice": false},
              "axis": {
                "title": null,
                "grid": false,
                "values": ["2022-06-15T09:00", "2022-06-15T10:00", "2022-06-15T11:00", "2022-06-15T12:00", "2022-06-15T13:00", "2022-06-15T14:00", "2022-06-15T15:00"],
                "format": "%H:%M",
                "labelPadding": 6,
                "labelOverlap": false,
                "labelFlush": false
              }
            },
            "y": {
              "field": "v",
              "type": "quantitative",
              "scale": {"domain": [-3800, 475600]},
              "axis": {
                "orient": "right",
                "title": "Volume",
                "values": [0, 50000, 100000, 150000, 200000, 250000, 300000, 350000, 400000, 450000],
                "format": "~s",
                "gridColor": "#8a8a8a",
                "labelPadding": 3,
                "titlePadding": 16
              }
            },
            "color": {"condition": {"test": "datum.c >= datum.o", "value": "red"}, "value": "blue"}
          }
        },
        {
          "data": {"name": "news"},
          "mark": {"type": "text", "baseline": "bottom", "dy": 2, "fontSize": 12, "color": "#2a3f5f", "font": "Open Sans, sans-serif"},
          "encoding": {
            "x": {"field": "t", "type": "temporal"},
            "y": {"field": "v", "type": "quantitative", "scale": {"domain": [-3800, 475600]}, "axis": null},
            "text": {"field": "n"}
          }
        },
        {
          "data": {"name": "dateline"},
          "mark": {"type": "text", "baseline": "top", "dx": -2, "dy": 20, "fontSize": 12, "color": "#2a3f5f", "font": "Open Sans, sans-serif"},
          "encoding": {
            "x": {"field": "t", "type": "temporal"},
            "y": {"field": "p", "type": "quantitative", "scale": {"domain": [7768, 8682]}, "axis": null},
            "text": {"field": "label"}
          }
        },
        {
          "data": {"name": "candles"},
          "mark": {"type": "rule", "strokeWidth": 1.4},
          "encoding": {
            "x": {"field": "t", "type": "temporal"},
            "y": {
              "field": "l",
              "type": "quantitative",
              "scale": {"domain": [7768, 8682]},
              "axis": {
                "orient": "left",
                "title": "Price",
                "values": [7800, 7900, 8000, 8100, 8200, 8300, 8400, 8500, 8600],
                "format": "d",
                "labelPadding": 3,
                "titlePadding": 18
              }
            },
            "y2": {"field": "h"},
            "color": {"condition": {"test": "datum.c >= datum.o", "value": "red"}, "value": "blue"}
          }
        },
        {
          "data": {"name": "candles"},
          "mark": {"type": "bar", "width": 1.8, "strokeWidth": 1},
          "encoding": {
            "x": {"field": "t", "type": "temporal"},
            "y": {"field": "o", "type": "quantitative", "scale": {"domain": [7768, 8682]}, "axis": null},
            "y2": {"field": "c"},
            "color": {"condition": {"test": "datum.c >= datum.o", "value": "red"}, "value": "blue"},
            "stroke": {"condition": {"test": "datum.c >= datum.o", "value": "red"}, "value": "blue"}
          }
        }
      ]
    },
    {
      "width": 829,
      "height": 120,
      "resolve": {"scale": {"y": "independent"}},
      "layer": [
        {
          "data": {"name": "candles"},
          "mark": {"type": "bar", "width": 1.2, "opacity": 0.3},
          "encoding": {
            "x": {
              "field": "t",
              "type": "temporal",
              "scale": {"domain": ["2022-06-15T08:57:52", "2022-06-15T15:30:28"], "padding": 0, "nice": false},
              "axis": null
            },
            "y": {"field": "v", "type": "quantitative", "scale": {"domain": [0, 493000]}, "axis": null},
            "color": {"condition": {"test": "datum.c >= datum.o", "value": "red"}, "value": "blue"}
          }
        },
        {
          "data": {"name": "candles"},
          "mark": {"type": "rule", "strokeWidth": 1},
          "encoding": {
            "x": {"field": "t", "type": "temporal"},
            "y": {"field": "l", "type": "quantitative", "scale": {"domain": [7768, 8682]}, "axis": null},
            "y2": {"field": "h"},
            "color": {"condition": {"test": "datum.c >= datum.o", "value": "red"}, "value": "blue"}
          }
        },
        {
          "data": {"name": "candles"},
          "mark": {"type": "bar", "width": 2.2, "strokeWidth": 0.8},
          "encoding": {
            "x": {"field": "t", "type": "temporal"},
            "y": {"field": "o", "type": "quantitative", "scale": {"domain": [7768, 8682]}, "axis": null},
            "y2": {"field": "c"},
            "color": {"condition": {"test": "datum.c >= datum.o", "value": "red"}, "value": "blue"},
            "stroke": {"condition": {"test": "datum.c >= datum.o", "value": "red"}, "value": "blue"}
          }
        },
        {
          "data": {"name": "handles"},
          "mark": {"type": "rule", "strokeWidth": 5, "color": "#444444", "strokeCap": "butt"},
          "encoding": {
            "x": {"field": "t", "type": "temporal"},
            "y": {"field": "lo", "type": "quantitative", "scale": {"domain": [7768, 8682]}, "axis": null},
            "y2": {"field": "hi"}
          }
        },
        {
          "data": {"name": "handles"},
          "mark": {"type": "rule", "strokeWidth": 3, "color": "white", "strokeCap": "butt"},
          "encoding": {
            "x": {"field": "t", "type": "temporal"},
            "y": {"field": "lo2", "type": "quantitative", "scale": {"domain": [7768, 8682]}, "axis": null},
            "y2": {"field": "hi2"}
          }
        }
      ]
    }
  ],
  "config": {
    "view": {"fill": "#E5ECF6", "stroke": null},
    "axis": {
      "labelFont": "Open Sans, sans-serif",
      "titleFont": "Open Sans, sans-serif",
      "labelColor": "#2a3f5f",
      "titleColor": "#2a3f5f",
      "labelFontSize": 12,
      "titleFontSize": 14,
      "titleFontWeight": "bold",
      "ticks": false,
      "domain": false,
      "grid": true,
      "gridColor": "white",
      "gridWidth": 1
    }
  }
}
